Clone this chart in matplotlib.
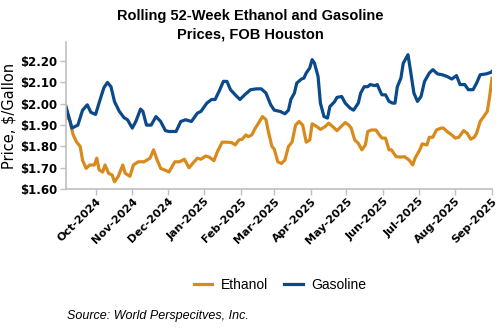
import numpy as np
import pandas as pd
import matplotlib
matplotlib.use("Agg")
import matplotlib.pyplot as plt
import matplotlib.dates as mdates

plt.rcParams['font.family'] = ['Liberation Sans', 'DejaVu Sans']

# Gasoline, FOB Houston ($/gal)
gas_dates = ["2024-09-06", "2024-09-11", "2024-09-16", "2024-09-20", "2024-09-24", "2024-09-27",
             "2024-10-01", "2024-10-04", "2024-10-08", "2024-10-11", "2024-10-14", "2024-10-17",
             "2024-10-21", "2024-10-25", "2024-10-28", "2024-11-01", "2024-11-04", "2024-11-08",
             "2024-11-10", "2024-11-13", "2024-11-17", "2024-11-21", "2024-11-25", "2024-11-29",
             "2024-12-02", "2024-12-04", "2024-12-08", "2024-12-12", "2024-12-16", "2024-12-21",
             "2024-12-26", "2024-12-29", "2025-01-03", "2025-01-07", "2025-01-10", "2025-01-14",
             "2025-01-17", "2025-01-20", "2025-01-23", "2025-01-27", "2025-01-31", "2025-02-04",
             "2025-02-09", "2025-02-14", "2025-02-18", "2025-02-22", "2025-02-26", "2025-03-01",
             "2025-03-06", "2025-03-10", "2025-03-13", "2025-03-15", "2025-03-18", "2025-03-20",
             "2025-03-24", "2025-03-26", "2025-03-28", "2025-03-31", "2025-04-02", "2025-04-04",
             "2025-04-07", "2025-04-09", "2025-04-12", "2025-04-15", "2025-04-17", "2025-04-21",
             "2025-04-23", "2025-04-27", "2025-04-30", "2025-05-04", "2025-05-07", "2025-05-11",
             "2025-05-13", "2025-05-16", "2025-05-19", "2025-05-21", "2025-05-25", "2025-05-27",
             "2025-05-30", "2025-05-31", "2025-06-03", "2025-06-06", "2025-06-09", "2025-06-11",
             "2025-06-13", "2025-06-16", "2025-06-18", "2025-06-22", "2025-06-24", "2025-06-27",
             "2025-06-30", "2025-07-03", "2025-07-06", "2025-07-10", "2025-07-13", "2025-07-17",
             "2025-07-21", "2025-07-25", "2025-07-29", "2025-08-02", "2025-08-05", "2025-08-09",
             "2025-08-12", "2025-08-16", "2025-08-19", "2025-08-22", "2025-08-27", "2025-08-31",
             "2025-09-01"]
gas_price = [1.987, 1.886, 1.900, 1.970, 1.995, 1.960,
             1.950, 2.005, 2.075, 2.100, 2.080, 2.010,
             1.965, 1.935, 1.925, 1.886, 1.917, 1.975,
             1.964, 1.900, 1.900, 1.940, 1.917, 1.874,
             1.870, 1.870, 1.870, 1.917, 1.925, 1.917,
             1.956, 1.964, 2.003, 2.020, 2.020, 2.066,
             2.105, 2.105, 2.066, 2.042, 2.020, 2.042,
             2.066, 2.070, 2.070, 2.050, 1.995, 1.970,
             1.964, 1.953, 1.970, 2.020, 2.050, 2.097,
             2.116, 2.120, 2.144, 2.168, 2.207, 2.190,
             2.128, 2.003, 1.940, 1.933, 1.987, 2.010,
             2.030, 2.034, 2.003, 1.980, 1.970, 2.003,
             2.050, 2.080, 2.080, 2.090, 2.085, 2.090,
             2.053, 2.042, 2.042, 2.011, 2.003, 2.003,
             2.080, 2.120, 2.190, 2.230, 2.160, 2.050,
             2.011, 2.034, 2.105, 2.144, 2.160, 2.140,
             2.136, 2.128, 2.116, 2.132, 2.090, 2.090,
             2.066, 2.066, 2.097, 2.136, 2.140, 2.147,
             2.152]

# Ethanol, FOB Houston ($/gal)
eth_dates = ["2024-09-06", "2024-09-09", "2024-09-12", "2024-09-15", "2024-09-18", "2024-09-20",
             "2024-09-23", "2024-09-26", "2024-09-30", "2024-10-02", "2024-10-04", "2024-10-07",
             "2024-10-09", "2024-10-12", "2024-10-15", "2024-10-17", "2024-10-20", "2024-10-24",
             "2024-10-26", "2024-10-30", "2024-11-02", "2024-11-06", "2024-11-11", "2024-11-16",
             "2024-11-19", "2024-11-22", "2024-11-25", "2024-11-30", "2024-12-02", "2024-12-07",
             "2024-12-11", "2024-12-15", "2024-12-19", "2024-12-22", "2024-12-26", "2024-12-29",
             "2025-01-02", "2025-01-05", "2025-01-09", "2025-01-12", "2025-01-16", "2025-01-20",
             "2025-01-24", "2025-01-27", "2025-01-30", "2025-02-02", "2025-02-05", "2025-02-07",
             "2025-02-10", "2025-02-13", "2025-02-16", "2025-02-19", "2025-02-22", "2025-02-24",
             "2025-02-27", "2025-03-01", "2025-03-04", "2025-03-07", "2025-03-10", "2025-03-13",
             "2025-03-16", "2025-03-19", "2025-03-22", "2025-03-25", "2025-03-28", "2025-03-31",
             "2025-04-02", "2025-04-06", "2025-04-09", "2025-04-13", "2025-04-16", "2025-04-20",
             "2025-04-23", "2025-04-27", "2025-04-30", "2025-05-03", "2025-05-05", "2025-05-08",
             "2025-05-11", "2025-05-14", "2025-05-17", "2025-05-19", "2025-05-22", "2025-05-26",
             "2025-05-28", "2025-05-31", "2025-06-03", "2025-06-06", "2025-06-08", "2025-06-12",
             "2025-06-16", "2025-06-19", "2025-06-23", "2025-06-26", "2025-06-28", "2025-07-02",
             "2025-07-04", "2025-07-08", "2025-07-10", "2025-07-13", "2025-07-16", "2025-07-20",
             "2025-07-22", "2025-07-25", "2025-07-29", "2025-08-01", "2025-08-04", "2025-08-08",
             "2025-08-11", "2025-08-14", "2025-08-17", "2025-08-19", "2025-08-22", "2025-08-25",
             "2025-08-28", "2025-08-30", "2025-09-01"]
eth_price = [1.940, 1.925, 1.855, 1.820, 1.800, 1.735,
             1.697, 1.713, 1.713, 1.745, 1.690, 1.680,
             1.713, 1.674, 1.666, 1.634, 1.658, 1.713,
             1.674, 1.660, 1.713, 1.728, 1.728, 1.745,
             1.784, 1.737, 1.697, 1.686, 1.680, 1.728,
             1.728, 1.740, 1.700, 1.720, 1.745, 1.740,
             1.755, 1.750, 1.733, 1.776, 1.820, 1.820,
             1.818, 1.807, 1.830, 1.834, 1.854, 1.846,
             1.854, 1.886, 1.912, 1.940, 1.925, 1.870,
             1.800, 1.787, 1.728, 1.720, 1.736, 1.800,
             1.820, 1.900, 1.917, 1.900, 1.820, 1.830,
             1.906, 1.893, 1.880, 1.893, 1.909, 1.890,
             1.874, 1.896, 1.912, 1.900, 1.886, 1.830,
             1.815, 1.784, 1.807, 1.870, 1.877, 1.877,
             1.860, 1.839, 1.839, 1.784, 1.784, 1.752,
             1.750, 1.752, 1.736, 1.713, 1.745, 1.784,
             1.812, 1.807, 1.843, 1.843, 1.877, 1.886,
             1.886, 1.870, 1.854, 1.839, 1.843, 1.874,
             1.862, 1.834, 1.843, 1.862, 1.917, 1.940,
             1.964, 2.034, 2.120]

y_ticks = [1.60, 1.70, 1.80, 1.90, 2.00, 2.10, 2.20]

eth_color = '#D98A1C'
gas_color = '#0B4A8A'
grey = '#BFBFBF'

gas_dates = pd.to_datetime(gas_dates)
eth_dates = pd.to_datetime(eth_dates)

fig = plt.figure(figsize=(5, 3.3), dpi=100)
ax = fig.add_axes([0.132, 0.427, 0.852, 0.446])

ax.plot(eth_dates, eth_price, color=eth_color, lw=2.3, label='Ethanol', solid_joinstyle='round')
ax.plot(gas_dates, gas_price, color=gas_color, lw=2.3, label='Gasoline', solid_joinstyle='round')

ax.set_xlim(eth_dates[0], eth_dates[-1])
ax.set_ylim(1.60, 2.29)
ax.set_yticks(y_ticks)
ax.set_yticklabels(['${:.2f}'.format(v) for v in y_ticks])

ax.xaxis.set_major_locator(mdates.MonthLocator(bymonthday=1))
ax.xaxis.set_major_formatter(mdates.DateFormatter('%b-%Y'))
for lab in ax.get_xticklabels():
    lab.set_rotation(45)
    lab.set_ha('right')
    lab.set_rotation_mode('anchor')

for s in ['top', 'right']:
    ax.spines[s].set_visible(False)
for s in ['left', 'bottom']:
    ax.spines[s].set_color(grey)
    ax.spines[s].set_linewidth(1.2)
ax.tick_params(axis='both', colors=grey, length=4, width=1.0, labelcolor='black')
ax.tick_params(axis='y', labelsize=8.5, pad=2)
ax.tick_params(axis='x', labelsize=8, pad=1)
for lab in ax.get_yticklabels() + ax.get_xticklabels():
    lab.set_fontweight('bold')
    lab.set_family('DejaVu Sans')

ax.set_ylabel('Price, $/Gallon', fontsize=10.5, labelpad=3, family='DejaVu Sans')

fig.text(0.5, 0.972, 'Rolling 52-Week Ethanol and Gasoline\nPrices, FOB Houston',
         ha='center', va='top', fontsize=10.5, fontweight='bold', linespacing=1.35)

fig.legend(loc='center', bbox_to_anchor=(0.56, 0.137), ncol=2, frameon=False,
           fontsize=10, handlelength=1.3, columnspacing=1.2, handletextpad=0.6)

fig.text(0.134, 0.033, 'Source: World Perspecitves, Inc.', fontsize=9, style='italic', ha='left')

fig.savefig('out.png', dpi=100)
